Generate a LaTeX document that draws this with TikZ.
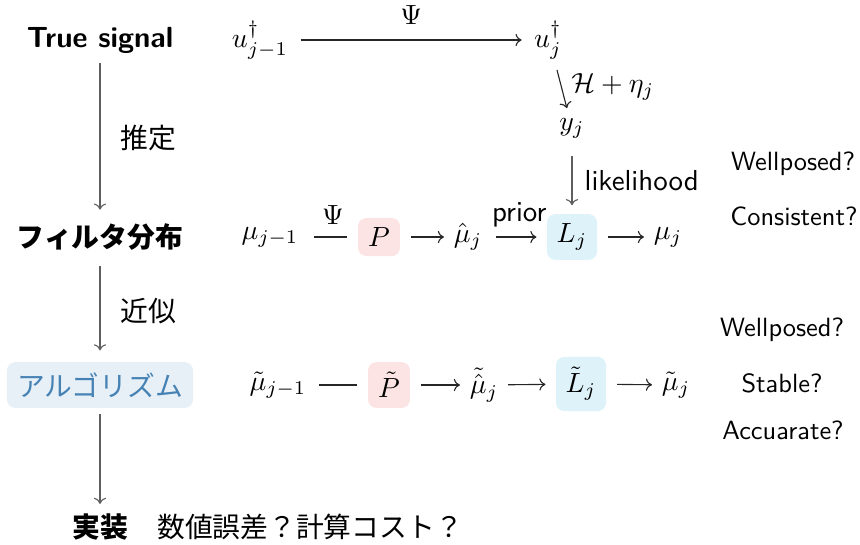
\documentclass[tikz,border=0pt]{standalone}
\usepackage{fontspec}
\usepackage{amsmath}
\newfontfamily\jp{Noto Sans CJK JP}
\usetikzlibrary{arrows.meta}
\definecolor{pinkbg}{RGB}{252,228,228}
\definecolor{bluebg}{RGB}{222,242,250}
\definecolor{algbg}{RGB}{232,240,247}
\definecolor{algfg}{RGB}{70,130,180}
\definecolor{arrgray}{RGB}{95,95,95}
\begin{document}
\begin{tikzpicture}[x=0.36pt,y=-0.36pt,font=\fontsize{10}{12}\selectfont]
\tikzset{
  lbl/.style={font=\sffamily\fontsize{10.4}{12}\selectfont},
  qlbl/.style={font=\sffamily\fontsize{9.5}{12}\selectfont},
  jpl/.style={font=\jp\fontsize{10}{12}\selectfont},
  jpb/.style={font=\jp\bfseries\fontsize{10}{12}\selectfont},
  pbox/.style={fill=pinkbg,rounded corners=3pt,minimum width=15.1pt,inner sep=0pt},
  lbox/.style={fill=bluebg,rounded corners=3pt,minimum width=18pt,inner sep=0pt},
  varr/.style={draw=arrgray,-{To[length=2.2pt,width=4.4pt]}},
  harr/.style={draw=black!85,-{To[length=2.2pt,width=4.4pt]}},
  hline/.style={draw=black!85},
}
\useasboundingbox (0,0) rectangle (860,544);
% left column
\node[font=\sffamily\bfseries\fontsize{10.5}{12}\selectfont] (TS) at (100,40) {True signal};
\node[jpb] (FD) at (100,237) {フィルタ分布};
\node[jpl,text=algfg,fill=algbg,rounded corners=3pt,minimum width=67pt,minimum height=16.5pt,inner sep=0pt] (AL) at (100,385) {アルゴリズム};
\node[jpb] (IM) at (100,527) {実装};
\node[jpl] (IMq) at (310,527) {数値誤差？計算コスト？};
\draw[varr,shorten <=0pt,shorten >=1.5pt] (TS) -- node[jpl,right=4pt] {推定} (FD);
\draw[varr,shorten <=2pt,shorten >=4pt] (FD) -- node[jpl,right=4pt] {近似} (AL);
\draw[varr,shorten <=2pt,shorten >=0pt] (AL) -- (IM);
% row 1
\node (u1) at (260,40) {$u^\dagger_{j-1}$};
\node (u2) at (548,40) {$u^\dagger_j$};
\draw[harr,shorten <=1pt,shorten >=1pt] (u1) -- node[above=2pt] {$\Psi$} (u2);
\node (y) at (572,128) {$y_j$};
\coordinate (ds) at (557,70);
\draw[harr] (ds) -- node[right=0pt,pos=0.45] {$\mathcal{H}+\eta_j$} (y);
% row 2
\node (m0) at (270,237) {$\mu_{j-1}$};
\node[pbox,minimum height=13.7pt] (P) at (379,237) {$P$};
\node (mh) at (468,237) {$\hat{\mu}_j$};
\node[lbox,minimum height=16.5pt] (L) at (572,237) {$L_j$};
\node (m1) at (668,237) {$\mu_j$};
\draw[hline,shorten <=2pt,shorten >=3.6pt] (m0) -- node[above=1pt] {$\Psi$} (P);
\draw[harr,shorten <=3.8pt,shorten >=0pt] (P) -- (mh);
\draw[harr,shorten <=1.5pt,shorten >=3.6pt] (mh) -- node[lbl,above=0pt] {prior} (L);
\draw[harr,shorten <=3.8pt,shorten >=0pt] (L) -- (m1);
\draw[varr,shorten <=3pt,shorten >=3pt] (y) -- node[lbl,right=1pt] {likelihood} (L);
% row 3
\node (t0) at (278,385) {$\tilde{\mu}_{j-1}$};
\node[pbox,minimum height=16.5pt] (tP) at (389,385) {$\tilde{P}$};
\node (th) at (484,385) {$\tilde{\hat{\mu}}_j$};
\node[lbox,minimum height=19.5pt] (tL) at (581,384) {$\tilde{L}_j$};
\node (t1) at (676,385) {$\tilde{\mu}_j$};
\draw[hline,shorten <=1pt,shorten >=3.6pt] (t0) -- (tP);
\draw[harr,shorten <=3.6pt,shorten >=0pt] (tP) -- (th);
\draw[harr,shorten <=0pt,shorten >=3.6pt] (th) -- (tL);
\draw[harr,shorten <=3.8pt,shorten >=0pt] (tL) -- (t1);
% right column
\node[qlbl] (q1) at (793,164) {Wellposed?};
\node[qlbl] (q2) at (794,216) {Consistent?};
\node[qlbl] (q3) at (782,330) {Wellposed?};
\node[qlbl] (q4) at (782,383) {Stable?};
\node[qlbl] (q5) at (783,430) {Accuarate?};
\end{tikzpicture}
\end{document}
